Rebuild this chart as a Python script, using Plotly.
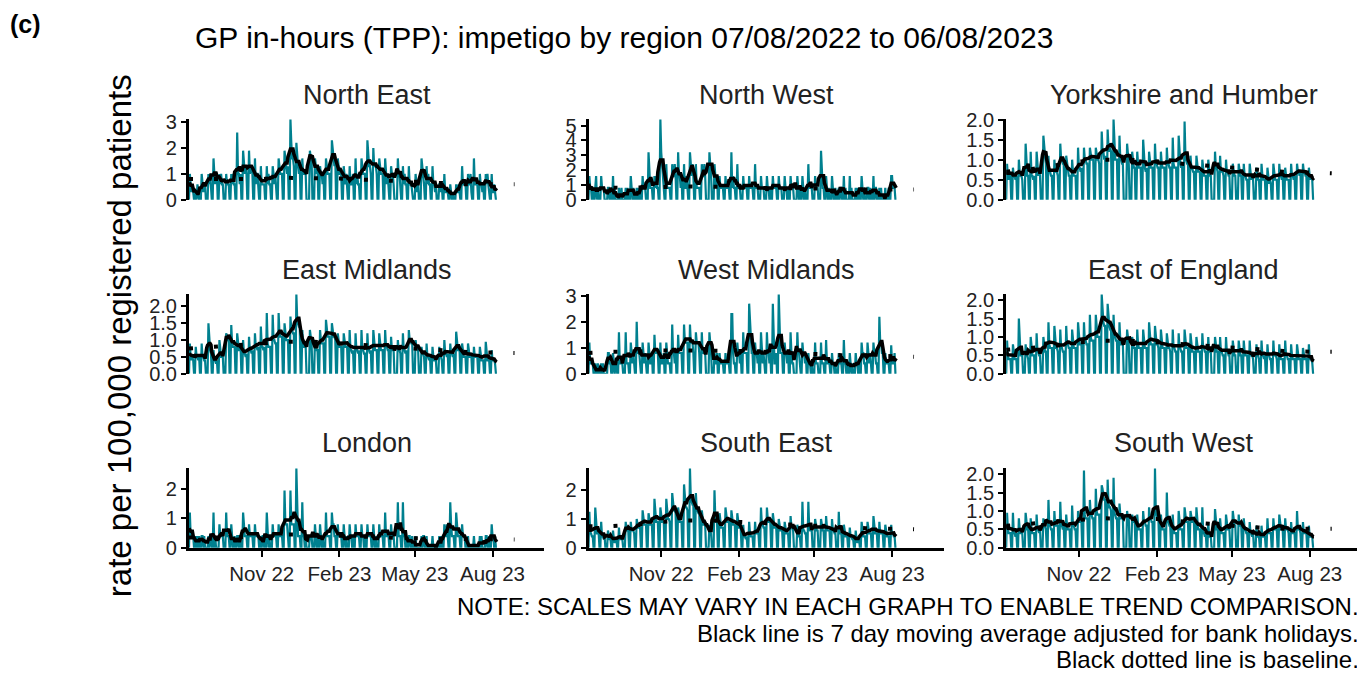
import pandas as pd
import plotly.graph_objects as go

# ---------------- data ----------------
regions = ["North East", "North West", "Yorkshire and Humber",
           "East Midlands", "West Midlands", "East of England",
           "London", "South East", "South West"]

start_date = "2022-08-07"
end_date = "2023-08-06"
bank_holidays = ["2022-08-29", "2022-09-19", "2022-12-26", "2022-12-27", "2023-01-02",
                 "2023-04-07", "2023-04-10", "2023-05-01", "2023-05-08", "2023-05-29"]

# Monday-Friday rates, weeks of 8 Aug 2022 .. 31 Jul 2023
north_east = [
    1.0, 0.6, 0.3, 0.6, 0.3,  0.3, 0.0, 0.6, 0.3, 0.0,  1.0, 0.6, 0.3, 0.6, 0.6,  0, 1.0, 0.6, 1.0, 0.6,
    1.6, 1.0, 0.6, 1.0, 1.0,  1.0, 0.6, 1.0, 0.6, 0.6,  0, 1.0, 0.6, 0.6, 0.6,  1.0, 0.6, 1.0, 0.6, 0.6,
    2.6, 1.0, 1.0, 0.6, 1.0,  1.9, 1.3, 1.0, 1.3, 1.0,  1.9, 1.0, 1.3, 1.3, 1.0,  1.6, 0.6, 1.0, 1.0, 0.6,
    1.3, 0.6, 0.6, 0.6, 0.6,  1.3, 0.6, 1.0, 0.6, 0.6,  1.3, 1.0, 0.6, 1.0, 0.6,  1.6, 1.3, 1.0, 1.0, 1.0,
    1.9, 1.6, 1.3, 1.0, 1.3,  3.1, 2.2, 1.6, 1.6, 1.3,  2.2, 1.6, 1.3, 1.0, 1.3,  1.6, 1.0, 1.0, 1.0, 1.0,
    0, 0, 1.9, 1.6, 1.6,  0, 1.6, 1.3, 1.0, 1.3,  1.3, 1.0, 1.0, 0.6, 1.0,  1.6, 1.3, 1.0, 1.0, 1.0,
    2.3, 1.9, 1.6, 1.3, 1.6,  1.6, 1.3, 1.0, 1.0, 1.0,  1.3, 1.0, 0.6, 1.0, 0.6,  1.3, 0.6, 0.6, 0.6, 1.0,
    1.6, 0.6, 1.0, 0.6, 0.6,  1.6, 1.3, 1.0, 1.0, 1.0,  2.3, 1.6, 1.3, 1.3, 1.0,  2.0, 1.3, 1.3, 1.3, 1.0,
    1.6, 1.3, 1.0, 1.0, 1.0,  1.6, 1.0, 0.6, 1.0, 0.6,  1.3, 1.0, 1.0, 0.6, 0,  0, 1.6, 1.0, 1.0, 0.6,
    1.3, 0.6, 1.0, 0.6, 0.6,  1.3, 0.6, 0.6, 0.6, 0.3,  0, 1.0, 0.6, 0.3, 0.6,  0, 1.6, 1.3, 1.0, 0.6,
    1.3, 0.6, 1.0, 0.6, 0.6,  1.3, 0.6, 0.6, 0.3, 0.6,  0, 0.6, 0.6, 0.3, 0.6,  1.0, 0.3, 0.3, 0.3, 0.3,
    0.6, 0.3, 0.0, 0.3, 0.0,  0.6, 0.3, 0.3, 0.6, 0.3,  1.3, 0.6, 0.6, 0.6, 0.6,  1.0, 0.6, 0.6, 1.0, 0.3,
    1.6, 0.6, 0.6, 0.6, 0.6,  1.0, 0.6, 0.6, 0.3, 0.6,  1.0, 0.6, 1.0, 0.6, 0.3,  1.0, 0.3, 0.3, 0.6, 0.3,
]
north_west = [
    1.6, 0.8, 0.8, 0, 0.8,  0.8, 1.6, 0, 0.8, 0,  1.6, 0.8, 0.8, 0.8, 0,  0, 0.8, 0.8, 0, 0.8,
    1.6, 0, 0.8, 0, 0,  0.8, 0, 0, 0.8, 0,  0, 0.8, 0, 0.8, 0,  1.6, 0.8, 0, 0.8, 0,
    0.8, 0, 0.8, 0, 0.8,  1.6, 0.8, 0.8, 0.8, 0,  3.2, 1.6, 0.8, 0.8, 0.8,  1.6, 0.8, 1.6, 0.8, 0.8,
    5.4, 3.2, 2.4, 1.6, 0.8,  2.4, 0.8, 0.8, 0.8, 0.8,  2.4, 1.6, 1.6, 2.4, 1.6,  3.2, 1.6, 1.6, 0.8, 1.6,
    2.4, 0.8, 0.8, 1.6, 0.8,  3.2, 2.4, 1.6, 2.4, 1.6,  2.4, 0.8, 0.8, 0.8, 0.8,  2.4, 1.6, 1.6, 2.4, 1.6,
    0, 0, 3.2, 2.4, 1.6,  0, 2.4, 1.6, 0.8, 1.6,  1.6, 0.8, 0.8, 0.8, 0.8,  1.6, 0.8, 0.8, 0.8, 0.8,
    3.2, 0.8, 1.6, 0.8, 0.8,  2.4, 0.8, 0.8, 0.8, 0,  1.6, 0.8, 0.8, 0.8, 0.8,  1.6, 0.8, 0.8, 0.8, 0.8,
    2.4, 0.8, 0.8, 0.8, 0,  1.6, 0.8, 0.8, 0.8, 0,  1.6, 0.8, 0.8, 0, 0.8,  1.6, 0.8, 0.8, 0.8, 0.8,
    1.6, 0.8, 0.8, 0.8, 0,  1.6, 0.8, 0.8, 0, 0.8,  1.6, 0.8, 0.8, 0.8, 0,  0, 1.6, 0.8, 0, 0.8,
    1.6, 0.8, 0, 0.8, 0,  2.4, 0.8, 0.8, 0.8, 0.8,  0, 1.6, 0.8, 0.8, 0.8,  0, 3.3, 1.6, 0.8, 0.8,
    1.6, 0.8, 0, 0.8, 0,  1.6, 0.8, 0, 0, 0.8,  0, 0.8, 0, 0.8, 0.8,  1.6, 0, 0.8, 0, 0,
    1.6, 0, 0.8, 0, 0,  0.8, 0, 0.8, 0, 0.8,  1.6, 0.8, 0, 0.8, 0,  0.8, 0.8, 0, 0.8, 0,
    1.6, 0, 0.8, 0.8, 0,  0.8, 0, 0.8, 0, 0,  0.8, 0, 0, 0, 0.8,  1.6, 1.6, 0.8, 0.8, 0.8,
]
yorkshire = [
    0.9, 0.6, 0.5, 0.7, 0.6,  0.8, 0.6, 0.6, 0.5, 0.6,  1.0, 0.7, 0.6, 0.6, 0.5,  0, 1.4, 0.7, 0.6, 0.6,
    1.2, 0.6, 0.6, 0.5, 0.6,  1.2, 0.7, 0.6, 0.7, 0.6,  0, 1.6, 1.2, 1.1, 0.9,  1.1, 0.7, 0.7, 0.6, 0.6,
    1.0, 0.7, 0.7, 0.7, 0.6,  1.4, 1.0, 1.0, 0.9, 0.9,  1.1, 0.9, 0.7, 0.6, 0.6,  1.0, 0.7, 0.6, 0.6, 0.6,
    1.3, 0.8, 0.8, 0.7, 0.8,  1.3, 1.0, 1.0, 0.9, 0.9,  1.3, 1.1, 1.0, 1.0, 1.0,  1.3, 1.1, 1.0, 1.0, 0.9,
    1.7, 1.2, 1.2, 1.0, 1.1,  1.75, 1.3, 1.2, 1.3, 1.2,  2.0, 1.1, 1.0, 1.0, 1.0,  1.6, 1.0, 1.0, 0.9, 0.9,
    0, 0, 1.4, 1.0, 0.9,  0, 1.2, 0.9, 0.8, 0.8,  1.2, 0.9, 0.8, 0.8, 0.8,  1.5, 0.9, 0.8, 0.7, 0.8,
    1.2, 0.9, 0.8, 0.8, 0.8,  1.4, 0.9, 0.9, 0.8, 0.8,  1.2, 0.9, 0.8, 0.8, 0.8,  1.3, 0.9, 0.9, 0.8, 0.8,
    1.55, 0.9, 0.8, 0.8, 0.8,  1.6, 1.0, 0.9, 0.8, 0.9,  1.95, 1.1, 1.0, 0.9, 0.9,  1.1, 0.8, 0.8, 0.7, 0.7,
    1.1, 0.8, 0.7, 0.7, 0.7,  1.0, 0.7, 0.6, 0.6, 0.6,  1.0, 0.7, 0.6, 0.6, 0,  0, 1.2, 0.8, 0.8, 0.7,
    1.1, 0.7, 0.7, 0.7, 0.6,  1.0, 0.7, 0.7, 0.6, 0.6,  0, 0.9, 0.7, 0.6, 0.6,  0, 0.9, 0.7, 0.6, 0.6,
    0.9, 0.6, 0.6, 0.5, 0.5,  0.9, 0.6, 0.5, 0.6, 0.5,  0, 0.8, 0.6, 0.5, 0.5,  0.9, 0.6, 0.5, 0.5, 0.5,
    0.8, 0.5, 0.4, 0.5, 0.4,  0.9, 0.6, 0.5, 0.5, 0.5,  0.9, 0.6, 0.6, 0.5, 0.6,  0.8, 0.6, 0.5, 0.5, 0.5,
    0.9, 0.6, 0.6, 0.5, 0.6,  0.9, 0.7, 0.7, 0.6, 0.7,  0.9, 0.7, 0.7, 0.6, 0.6,  0.8, 0.6, 0.5, 0.6, 0.5,
]
east_midlands = [
    0.9, 0.5, 0.4, 0.5, 0.4,  0.8, 0.5, 0.5, 0.4, 0.5,  0.9, 0.5, 0.5, 0.4, 0.4,  0, 1.5, 0.8, 0.7, 0.6,
    0.7, 0.4, 0.4, 0.3, 0.4,  1.0, 0.6, 0.5, 0.5, 0.5,  0, 1.2, 1.1, 1.0, 1.0,  1.45, 0.9, 0.8, 0.8, 0.8,
    1.2, 0.8, 0.7, 0.7, 0.8,  1.0, 0.6, 0.6, 0.5, 0.6,  1.1, 0.7, 0.7, 0.6, 0.7,  1.2, 0.8, 0.8, 0.7, 0.8,
    1.4, 0.8, 0.8, 0.7, 0.8,  1.8, 0.9, 0.8, 0.8, 0.8,  1.75, 1.0, 1.0, 0.9, 0.9,  1.8, 1.2, 1.1, 1.1, 1.1,
    1.5, 1.1, 1.0, 1.0, 1.0,  1.7, 1.3, 1.3, 1.2, 1.2,  2.35, 1.6, 1.5, 1.4, 1.4,  1.3, 0.9, 0.8, 0.8, 0.8,
    0, 0, 1.3, 1.0, 0.9,  0, 1.0, 0.8, 0.7, 0.7,  1.3, 1.0, 0.9, 0.9, 0.9,  1.6, 1.2, 1.1, 1.1, 1.1,
    1.5, 1.2, 1.1, 1.1, 1.0,  1.2, 0.9, 0.8, 0.8, 0.8,  1.2, 0.9, 0.8, 0.8, 0.8,  1.3, 0.7, 0.7, 0.6, 0.7,
    1.2, 0.7, 0.7, 0.6, 0.7,  1.3, 0.7, 0.7, 0.6, 0.6,  1.2, 0.7, 0.7, 0.6, 0.7,  1.3, 0.8, 0.7, 0.7, 0.7,
    1.2, 0.8, 0.7, 0.7, 0.7,  1.3, 0.8, 0.8, 0.7, 0.7,  1.1, 0.7, 0.7, 0.7, 0,  0, 1.0, 0.7, 0.7, 0.6,
    1.2, 0.7, 0.7, 0.6, 0.7,  1.3, 1.0, 1.0, 0.9, 0.9,  0, 1.0, 0.8, 0.8, 0.7,  0, 0.8, 0.6, 0.6, 0.5,
    0.9, 0.5, 0.5, 0.4, 0.5,  0.8, 0.5, 0.4, 0.4, 0.4,  0, 0.8, 0.5, 0.5, 0.4,  1.0, 0.6, 0.6, 0.5, 0.6,
    0.9, 0.6, 0.6, 0.5, 0.6,  1.25, 0.8, 0.7, 0.7, 0.7,  0.9, 0.6, 0.5, 0.5, 0.5,  0.9, 0.6, 0.5, 0.5, 0.5,
    0.8, 0.5, 0.5, 0.5, 0.5,  0.8, 0.5, 0.4, 0.4, 0.4,  0.95, 0.5, 0.4, 0.4, 0.4,  0.7, 0.4, 0.4, 0.4, 0.3,
]
west_midlands = [
    1.2, 0.4, 0.4, 0.4, 0.4,  0.4, 0, 0, 0.4, 0,  0.4, 0, 0.4, 0, 0,  0, 0.8, 0.8, 0.4, 0.4,
    0.8, 0.4, 0, 0.4, 0.4,  1.6, 0.4, 0.4, 0.4, 0.4,  0, 1.6, 0.4, 0.4, 0.4,  1.2, 0.8, 0.4, 0.8, 0.4,
    2.0, 0.8, 0.8, 0.8, 0.4,  1.2, 0.8, 0.4, 0.8, 0.4,  1.2, 0.8, 0.4, 0.4, 0.8,  1.5, 0.8, 0.8, 0.8, 0.8,
    1.2, 0.4, 0.4, 0.4, 0.8,  1.2, 0.8, 0.4, 0.4, 0.4,  1.9, 0.8, 0.8, 0.4, 0.8,  1.5, 0.8, 0.8, 0.8, 0.8,
    1.9, 1.2, 1.2, 1.2, 1.2,  1.9, 1.2, 1.2, 1.2, 0.8,  1.6, 1.2, 1.2, 1.2, 0.8,  1.6, 0.8, 0.8, 0.8, 0.8,
    0, 0, 1.6, 1.2, 0.8,  0, 0.8, 0.4, 0.4, 0.8,  0.8, 0.4, 0.4, 0.4, 0.4,  0.8, 0.4, 0.4, 0.4, 0.4,
    2.3, 2.3, 0.8, 0.4, 0.4,  1.2, 0.8, 0.8, 0.4, 0.8,  1.6, 0.8, 0.8, 0.8, 0.8,  2.7, 2.0, 1.2, 0.8, 0.8,
    1.2, 0.8, 0.8, 0.4, 0.8,  1.6, 0.8, 0.4, 0.8, 0.4,  1.6, 0.8, 0.8, 0.4, 0.8,  2.7, 0.8, 0.4, 0.4, 0.8,
    3.05, 1.9, 0.8, 0.8, 0.8,  1.2, 0.8, 0.8, 0.4, 0.8,  1.6, 0.8, 0.4, 0.4, 0,  0, 1.6, 0.8, 0.8, 0.4,
    1.2, 0.8, 0.8, 0.4, 0.8,  0.8, 0.4, 0.4, 0, 0.4,  0, 1.2, 0.4, 0.4, 0.4,  0, 1.2, 0.4, 0.4, 0.4,
    1.3, 0.4, 0.4, 0.4, 0.4,  0.8, 0.4, 0.4, 0, 0.4,  0, 0.8, 0.4, 0.4, 0.4,  1.3, 0.4, 0.4, 0, 0.4,
    0.8, 0.4, 0, 0.4, 0,  0.8, 0.4, 0.4, 0, 0.4,  1.2, 0.8, 0.8, 0.4, 0.4,  1.2, 0.8, 0.4, 0.8, 0.4,
    1.2, 0.8, 0.8, 0.4, 0.4,  2.2, 1.2, 1.2, 0.8, 0.8,  0.8, 0.4, 0.4, 0.4, 0.4,  1.1, 0.4, 0.4, 0.4, 0.8,
]
east_of_england = [
    0.9, 0.5, 0.4, 0.4, 0.4,  0.8, 0.5, 0.4, 0.4, 0.4,  1.5, 0.6, 0.5, 0.5, 0.5,  0, 0.8, 0.5, 0.5, 0.4,
    1.0, 0.6, 0.5, 0.5, 0.5,  1.1, 0.6, 0.6, 0.5, 0.5,  0, 1.0, 0.7, 0.6, 0.6,  1.4, 0.8, 0.7, 0.7, 0.7,
    1.3, 0.8, 0.7, 0.7, 0.6,  1.2, 0.7, 0.7, 0.6, 0.6,  1.3, 0.8, 0.8, 0.7, 0.7,  1.2, 0.8, 0.7, 0.7, 0.7,
    1.4, 0.9, 0.8, 0.8, 0.8,  1.4, 0.9, 0.9, 0.8, 0.8,  1.6, 1.0, 0.9, 0.9, 0.9,  1.6, 1.1, 1.0, 1.0, 1.0,
    2.15, 1.5, 1.4, 1.3, 1.3,  1.9, 1.4, 1.3, 1.2, 1.2,  1.6, 1.0, 1.0, 0.9, 0.9,  1.4, 0.9, 0.8, 0.8, 0.8,
    0, 0, 1.2, 0.9, 0.8,  0, 1.0, 0.8, 0.7, 0.7,  1.2, 0.8, 0.7, 0.7, 0.7,  1.2, 0.8, 0.7, 0.7, 0.7,
    1.4, 0.9, 0.8, 0.8, 0.8,  1.3, 0.9, 0.8, 0.8, 0.7,  1.2, 0.8, 0.7, 0.7, 0.7,  1.1, 0.8, 0.7, 0.7, 0.6,
    1.2, 0.7, 0.7, 0.6, 0.6,  1.1, 0.7, 0.7, 0.6, 0.6,  1.2, 0.8, 0.7, 0.7, 0.7,  1.1, 0.7, 0.6, 0.6, 0.6,
    1.0, 0.7, 0.6, 0.6, 0.6,  1.1, 0.7, 0.7, 0.6, 0.6,  1.0, 0.6, 0.6, 0.6, 0,  0, 1.0, 0.7, 0.6, 0.6,
    1.0, 0.6, 0.6, 0.5, 0.5,  1.0, 0.6, 0.6, 0.5, 0.5,  0, 0.9, 0.6, 0.5, 0.5,  0, 0.9, 0.6, 0.5, 0.5,
    0.9, 0.6, 0.5, 0.5, 0.5,  0.9, 0.5, 0.5, 0.5, 0.4,  0, 0.8, 0.5, 0.5, 0.4,  0.9, 0.5, 0.5, 0.4, 0.5,
    0.8, 0.5, 0.5, 0.4, 0.4,  0.9, 0.5, 0.5, 0.5, 0.4,  0.8, 0.5, 0.4, 0.4, 0.4,  0.9, 0.5, 0.5, 0.4, 0.4,
    0.8, 0.5, 0.4, 0.4, 0.4,  0.8, 0.5, 0.4, 0.4, 0.4,  0.7, 0.5, 0.4, 0.4, 0.4,  0.8, 0.4, 0.4, 0.4, 0.3,
]
london = [
    1.2, 0.4, 0.4, 0.4, 0.4,  0.4, 0, 0.4, 0, 0.4,  0.4, 0.4, 0, 0.4, 0,  0, 0.4, 0, 0.4, 0.4,
    1.2, 0, 0.4, 0, 0,  0.8, 0.4, 0.4, 0.4, 0.4,  0, 1.2, 0.4, 0.4, 0.4,  0.8, 0.4, 0, 0, 0.4,
    0.4, 0.4, 0, 0.4, 0,  1.2, 0.8, 0.4, 0.4, 0.4,  0.8, 0.4, 0.4, 0.4, 0.4,  0.8, 0.4, 0.4, 0.4, 0.4,
    0.4, 0, 0.4, 0.4, 0,  1.2, 0.4, 0, 0.4, 0,  0.8, 0.4, 0.4, 0.4, 0.4,  0.8, 0.4, 0.4, 0.4, 0.4,
    1.95, 0.8, 0.8, 0.8, 0.4,  1.95, 0.8, 0.8, 0.8, 0.8,  2.7, 0.8, 0.4, 0.4, 0.4,  1.55, 0.4, 0.4, 0, 0.4,
    0, 0, 0.4, 0.4, 0.4,  0, 0.8, 0.4, 0, 0.4,  0.8, 0.4, 0, 0.4, 0,  1.2, 0.4, 0.4, 0.4, 0.4,
    1.2, 0.8, 0.8, 0.4, 0.4,  0.8, 0.4, 0.4, 0.4, 0.4,  0.8, 0.4, 0, 0.4, 0,  0.8, 0.4, 0.4, 0, 0.4,
    0.8, 0.4, 0.4, 0.4, 0.4,  0.8, 0.4, 0.4, 0, 0.4,  0.8, 0.4, 0.4, 0.4, 0.4,  0.8, 0.4, 0, 0.4, 0,
    0.8, 0.4, 0.4, 0.4, 0.4,  1.2, 0.4, 0.4, 0.4, 0.4,  0.8, 0.4, 0.4, 0.4, 0,  0, 1.55, 0.4, 0.4, 0.4,
    1.55, 0.4, 0.4, 0, 0.4,  0.4, 0.4, 0, 0, 0.4,  0, 0.4, 0, 0, 0,  0, 0.4, 0, 0.4, 0.4,
    0.4, 0, 0, 0, 0,  0.4, 0, 0, 0, 0,  0, 0.4, 0, 0.4, 0,  0.8, 0.4, 0.4, 0.8, 0.4,
    1.55, 0.8, 0.4, 0.4, 0.4,  1.2, 0.8, 0.4, 0.4, 0.4,  0.8, 0.4, 0.4, 0.4, 0,  0.4, 0, 0, 0, 0,
    0.4, 0, 0, 0, 0,  0.4, 0, 0.4, 0, 0,  0.4, 0.4, 0, 0, 0.4,  0.8, 0.4, 0.4, 0, 0.4,
]
south_east = [
    1.25, 0.5, 0.5, 0.4, 0.4,  1.4, 0.6, 0.5, 0.5, 0.5,  0.9, 0.4, 0.4, 0.3, 0.4,  0, 0.6, 0.4, 0.3, 0.3,
    0.6, 0.3, 0.2, 0.2, 0.3,  0.7, 0.3, 0.3, 0.3, 0.3,  0, 0.9, 0.6, 0.6, 0.6,  0.9, 0.6, 0.6, 0.6, 0.5,
    1.0, 0.8, 0.7, 0.7, 0.7,  1.3, 0.9, 0.8, 0.8, 0.8,  1.2, 0.9, 0.8, 0.8, 0.8,  1.7, 1.0, 0.9, 0.9, 0.9,
    1.4, 1.0, 0.9, 0.9, 0.9,  1.7, 1.1, 1.0, 1.0, 0.9,  1.9, 1.4, 1.3, 1.3, 1.2,  1.4, 1.0, 0.9, 0.9, 0.9,
    2.2, 1.5, 1.4, 1.4, 1.3,  2.75, 1.7, 1.6, 1.5, 1.5,  1.9, 1.3, 1.3, 1.2, 1.2,  1.3, 0.9, 0.8, 0.8, 0.8,
    0, 0, 0.8, 0.5, 0.5,  0, 2.0, 1.0, 0.9, 0.9,  1.2, 0.8, 0.7, 0.7, 0.7,  1.4, 1.0, 0.9, 0.9, 0.9,
    1.3, 0.9, 0.8, 0.8, 0.8,  1.2, 0.8, 0.7, 0.7, 0.7,  0.8, 0.4, 0.4, 0.3, 0.4,  0.9, 0.5, 0.4, 0.4, 0.4,
    0.9, 0.5, 0.5, 0.5, 0.5,  1.4, 0.8, 0.8, 0.7, 0.7,  1.4, 1.0, 0.9, 0.9, 0.9,  1.2, 0.8, 0.7, 0.7, 0.7,
    1.0, 0.7, 0.6, 0.6, 0.6,  0.9, 0.6, 0.5, 0.5, 0.5,  1.1, 0.7, 0.7, 0.6, 0,  0, 0.8, 0.5, 0.4, 0.4,
    1.6, 0.6, 0.6, 0.5, 0.5,  1.6, 0.7, 0.6, 0.6, 0.6,  0, 1.0, 0.7, 0.6, 0.6,  0, 1.0, 0.7, 0.6, 0.6,
    1.1, 0.7, 0.6, 0.6, 0.6,  1.0, 0.6, 0.6, 0.5, 0.5,  0, 1.25, 0.5, 0.5, 0.5,  0.8, 0.5, 0.4, 0.4, 0.4,
    0.7, 0.4, 0.4, 0.3, 0.3,  0.6, 0.3, 0.2, 0.2, 0.3,  0.9, 0.5, 0.4, 0.4, 0.4,  0.9, 0.6, 0.5, 0.5, 0.5,
    1.1, 0.6, 0.5, 0.5, 0.5,  0.9, 0.5, 0.5, 0.5, 0.5,  0.8, 0.5, 0.4, 0.4, 0.4,  0.8, 0.5, 0.5, 0.4, 0.4,
]
south_west = [
    0.95, 0.5, 0.4, 0.4, 0.4,  0.95, 0.4, 0.4, 0.3, 0.4,  0.8, 0.5, 0.4, 0.4, 0.4,  0, 0.95, 0.6, 0.5, 0.5,
    0.8, 0.5, 0.4, 0.4, 0.4,  0.9, 0.5, 0.5, 0.4, 0.5,  0, 0.8, 0.6, 0.6, 0.5,  1.3, 0.6, 0.6, 0.5, 0.5,
    1.0, 0.6, 0.6, 0.6, 0.6,  1.25, 0.6, 0.6, 0.5, 0.6,  0.9, 0.6, 0.5, 0.5, 0.5,  1.15, 0.6, 0.6, 0.5, 0.5,
    1.0, 0.8, 0.7, 0.7, 0.7,  2.1, 0.9, 0.8, 0.8, 0.8,  1.3, 0.9, 0.9, 0.8, 0.8,  1.6, 1.0, 0.9, 0.9, 0.9,
    1.7, 1.6, 1.4, 1.3, 1.3,  1.85, 1.2, 1.1, 1.1, 1.0,  1.9, 0.9, 0.9, 0.8, 0.8,  1.2, 0.9, 0.8, 0.8, 0.8,
    0, 0, 1.0, 0.8, 0.8,  0, 0.9, 0.8, 0.7, 0.7,  0.9, 0.6, 0.5, 0.5, 0.5,  1.0, 0.7, 0.7, 0.6, 0.6,
    1.1, 0.8, 0.8, 0.7, 0.7,  2.15, 0.9, 0.9, 0.8, 0.8,  0.9, 0.6, 0.5, 0.5, 0.5,  1.5, 0.7, 0.7, 0.6, 0.6,
    0.9, 0.5, 0.4, 0.4, 0.4,  1.0, 0.6, 0.5, 0.5, 0.5,  1.1, 0.8, 0.7, 0.7, 0.7,  1.0, 0.8, 0.7, 0.7, 0.7,
    1.1, 0.6, 0.5, 0.5, 0.5,  1.1, 0.4, 0.4, 0.3, 0.4,  0.7, 0.3, 0.3, 0.3, 0,  0, 1.05, 0.6, 0.5, 0.5,
    0.8, 0.5, 0.4, 0.4, 0.4,  0.9, 0.6, 0.5, 0.5, 0.5,  0, 1.0, 0.7, 0.6, 0.6,  0, 0.9, 0.6, 0.6, 0.6,
    0.8, 0.5, 0.5, 0.4, 0.4,  0.7, 0.4, 0.4, 0.3, 0.4,  0, 0.6, 0.3, 0.3, 0.3,  0.6, 0.3, 0.3, 0.3, 0.3,
    0.8, 0.4, 0.4, 0.4, 0.4,  0.8, 0.5, 0.5, 0.5, 0.5,  0.9, 0.6, 0.5, 0.5, 0.5,  0.8, 0.5, 0.5, 0.5, 0.4,
    0.7, 0.4, 0.4, 0.4, 0.4,  1.0, 0.5, 0.5, 0.5, 0.4,  0.7, 0.4, 0.4, 0.4, 0.4,  0.6, 0.3, 0.3, 0.3, 0.3,
]

baseline_dates = ["2022-08-07", "2022-09-01", "2022-10-01", "2022-11-01", "2022-12-01", "2023-01-01",
                  "2023-02-01", "2023-03-01", "2023-04-01", "2023-05-01", "2023-06-01", "2023-07-01",
                  "2023-08-01", "2023-08-27"]
ne_baseline = [0.80, 0.80, 0.78, 0.80, 0.85, 0.85, 0.82, 0.78, 0.75, 0.70, 0.65, 0.60, 0.60, 0.60]
nw_baseline = [0.80, 0.80, 0.80, 0.85, 0.90, 0.90, 0.85, 0.80, 0.80, 0.75, 0.75, 0.70, 0.70, 0.70]
yh_baseline = [0.70, 0.75, 0.85, 0.95, 1.00, 1.00, 0.95, 0.90, 0.85, 0.80, 0.75, 0.70, 0.68, 0.66]
em_baseline = [0.75, 0.80, 0.85, 0.90, 0.95, 0.95, 0.90, 0.85, 0.80, 0.75, 0.70, 0.65, 0.63, 0.62]
wm_baseline = [0.80, 0.85, 0.85, 0.90, 0.90, 0.90, 0.88, 0.85, 0.80, 0.75, 0.72, 0.70, 0.67, 0.66]
ee_baseline = [0.65, 0.70, 0.75, 0.85, 0.90, 0.90, 0.85, 0.80, 0.75, 0.70, 0.65, 0.62, 0.60, 0.60]
ld_baseline = [0.35, 0.35, 0.35, 0.40, 0.45, 0.45, 0.40, 0.38, 0.35, 0.32, 0.30, 0.30, 0.28, 0.28]
se_baseline = [0.75, 0.75, 0.80, 0.90, 0.95, 0.95, 0.90, 0.85, 0.80, 0.75, 0.72, 0.68, 0.65, 0.64]
sw_baseline = [0.60, 0.65, 0.72, 0.76, 0.80, 0.80, 0.78, 0.72, 0.65, 0.60, 0.55, 0.52, 0.52, 0.52]

weekday_rates = [north_east, north_west, yorkshire, east_midlands, west_midlands,
                 east_of_england, london, south_east, south_west]
baselines = [ne_baseline, nw_baseline, yh_baseline, em_baseline, wm_baseline,
             ee_baseline, ld_baseline, se_baseline, sw_baseline]

y_tick_labels = [
    ["0", "1", "2", "3"],
    ["0", "1", "2", "3", "4", "5"],
    ["0.0", "0.5", "1.0", "1.5", "2.0"],
    ["0.0", "0.5", "1.0", "1.5", "2.0"],
    ["0", "1", "2", "3"],
    ["0.0", "0.5", "1.0", "1.5", "2.0"],
    ["0", "1", "2"],
    ["0", "1", "2"],
    ["0.0", "0.5", "1.0", "1.5", "2.0"],
]
x_tick_dates = ["2022-11-01", "2023-02-01", "2023-05-01", "2023-08-01"]
x_tick_labels = ["Nov 22", "Feb 23", "May 23", "Aug 23"]

title_text = "GP in-hours (TPP): impetigo by region 07/08/2022 to 06/08/2023"
y_title = "rate per 100,000 registered patients"
notes = ["NOTE: SCALES MAY VARY IN EACH GRAPH TO ENABLE TREND COMPARISON.",
         "Black line is 7 day moving average adjusted for bank holidays.",
         "Black dotted line is baseline."]

# ---------------- build daily series ----------------
days = pd.date_range(start_date, end_date, freq="D")
bh = set(pd.to_datetime(bank_holidays))


def to_daily(vals):
    it = iter(vals)
    return [float(next(it)) if d.weekday() < 5 else 0.0 for d in days]


valid = [(d.weekday() < 5) and (d not in bh) for d in days]

# ---------------- figure ----------------
W, H = 1365, 675
# observed placement of the paper area inside the captured page
OX, OY, PW, PH = 9.6, 18.2, 1353.0, 654.0


def fx(px):
    return (px - OX) / PW


def fy(py):
    return 1 - (py - OY) / PH


FONT = "Liberation Sans, Arial, sans-serif"
TEAL = "#00808F"
col_px = [(189, 541), (585, 937), (999, 1351)]
row_px = [(119, 200), (294, 374), (468, 548)]
title_y_px = [95, 270, 443]

fig = go.Figure()
layout = dict(width=W, height=H, margin=dict(l=0, r=0, t=0, b=0, pad=0), autosize=False,
              paper_bgcolor="white", plot_bgcolor="white", showlegend=False,
              font=dict(family=FONT, color="#222222"))
annotations = []

for i, name in enumerate(regions):
    r, c = divmod(i, 3)
    n = "" if i == 0 else str(i + 1)
    daily = to_daily(weekday_rates[i])
    s = pd.Series(daily, index=days)
    ma = s.where(valid).rolling(7, center=True, min_periods=1).mean()

    fig.add_trace(go.Scatter(x=days, y=daily, mode="lines", line=dict(color=TEAL, width=2.2),
                             xaxis="x" + n, yaxis="y" + n, hoverinfo="skip"))
    fig.add_trace(go.Scatter(x=pd.to_datetime(baseline_dates), y=baselines[i], mode="lines",
                             line=dict(color="black", width=4, dash="4px,21px"),
                             xaxis="x" + n, yaxis="y" + n, hoverinfo="skip"))
    fig.add_trace(go.Scatter(x=days, y=ma, mode="lines", line=dict(color="black", width=3.5),
                             xaxis="x" + n, yaxis="y" + n, hoverinfo="skip"))

    x0, x1 = col_px[c]
    yt, yb = row_px[r]
    bottom = (r == 2)
    layout["xaxis" + n] = dict(
        domain=[fx(x0), fx(x1)], anchor="y" + n, type="date",
        range=["2022-08-07", "2023-10-01"], showgrid=False, zeroline=False,
        showline=bottom, linecolor="black", linewidth=3,
        ticks="outside" if bottom else "", ticklen=6, tickwidth=1.5, tickcolor="black",
        tickvals=x_tick_dates, ticktext=x_tick_labels, showticklabels=bottom,
        tickfont=dict(size=20.5, color="#222222", family=FONT))
    ymax = max(daily)
    labels = y_tick_labels[i]
    layout["yaxis" + n] = dict(
        domain=[fy(yb), fy(yt)], anchor="x" + n, range=[0, ymax * 1.01],
        showgrid=False, zeroline=False, showline=True, linecolor="black", linewidth=3,
        ticks="outside", ticklen=5, tickwidth=1.5, tickcolor="black",
        tickvals=[float(v) for v in labels], ticktext=labels,
        tickfont=dict(size=20, color="#222222", family=FONT))
    annotations.append(dict(text=name, x=fx((x0 + x1) / 2), y=fy(title_y_px[r]),
                            xref="paper", yref="paper", xanchor="center", yanchor="middle",
                            showarrow=False, font=dict(size=27, color="#222222", family=FONT)))

annotations.append(dict(text="<b>(c)</b>", x=fx(10), y=fy(24), xref="paper", yref="paper",
                        xanchor="left", yanchor="middle", showarrow=False,
                        font=dict(size=25, color="black", family=FONT)))
annotations.append(dict(text=title_text, x=fx(193), y=fy(38), xref="paper", yref="paper",
                        xanchor="left", yanchor="middle", showarrow=False,
                        font=dict(size=30, color="black", family=FONT)))
annotations.append(dict(text=y_title, x=fx(120), y=fy(336), xref="paper", yref="paper",
                        xanchor="center", yanchor="middle", textangle=-90, showarrow=False,
                        font=dict(size=33, color="black", family=FONT)))
for t, ypx in zip(notes, [607, 634, 660]):
    annotations.append(dict(text=t, x=fx(1351), y=fy(ypx), xref="paper", yref="paper",
                            xanchor="right", yanchor="middle", showarrow=False,
                            font=dict(size=24, color="black", family=FONT)))

layout["annotations"] = annotations
fig.update_layout(**layout)
fig.write_html("out.html", config={"displayModeBar": False})
